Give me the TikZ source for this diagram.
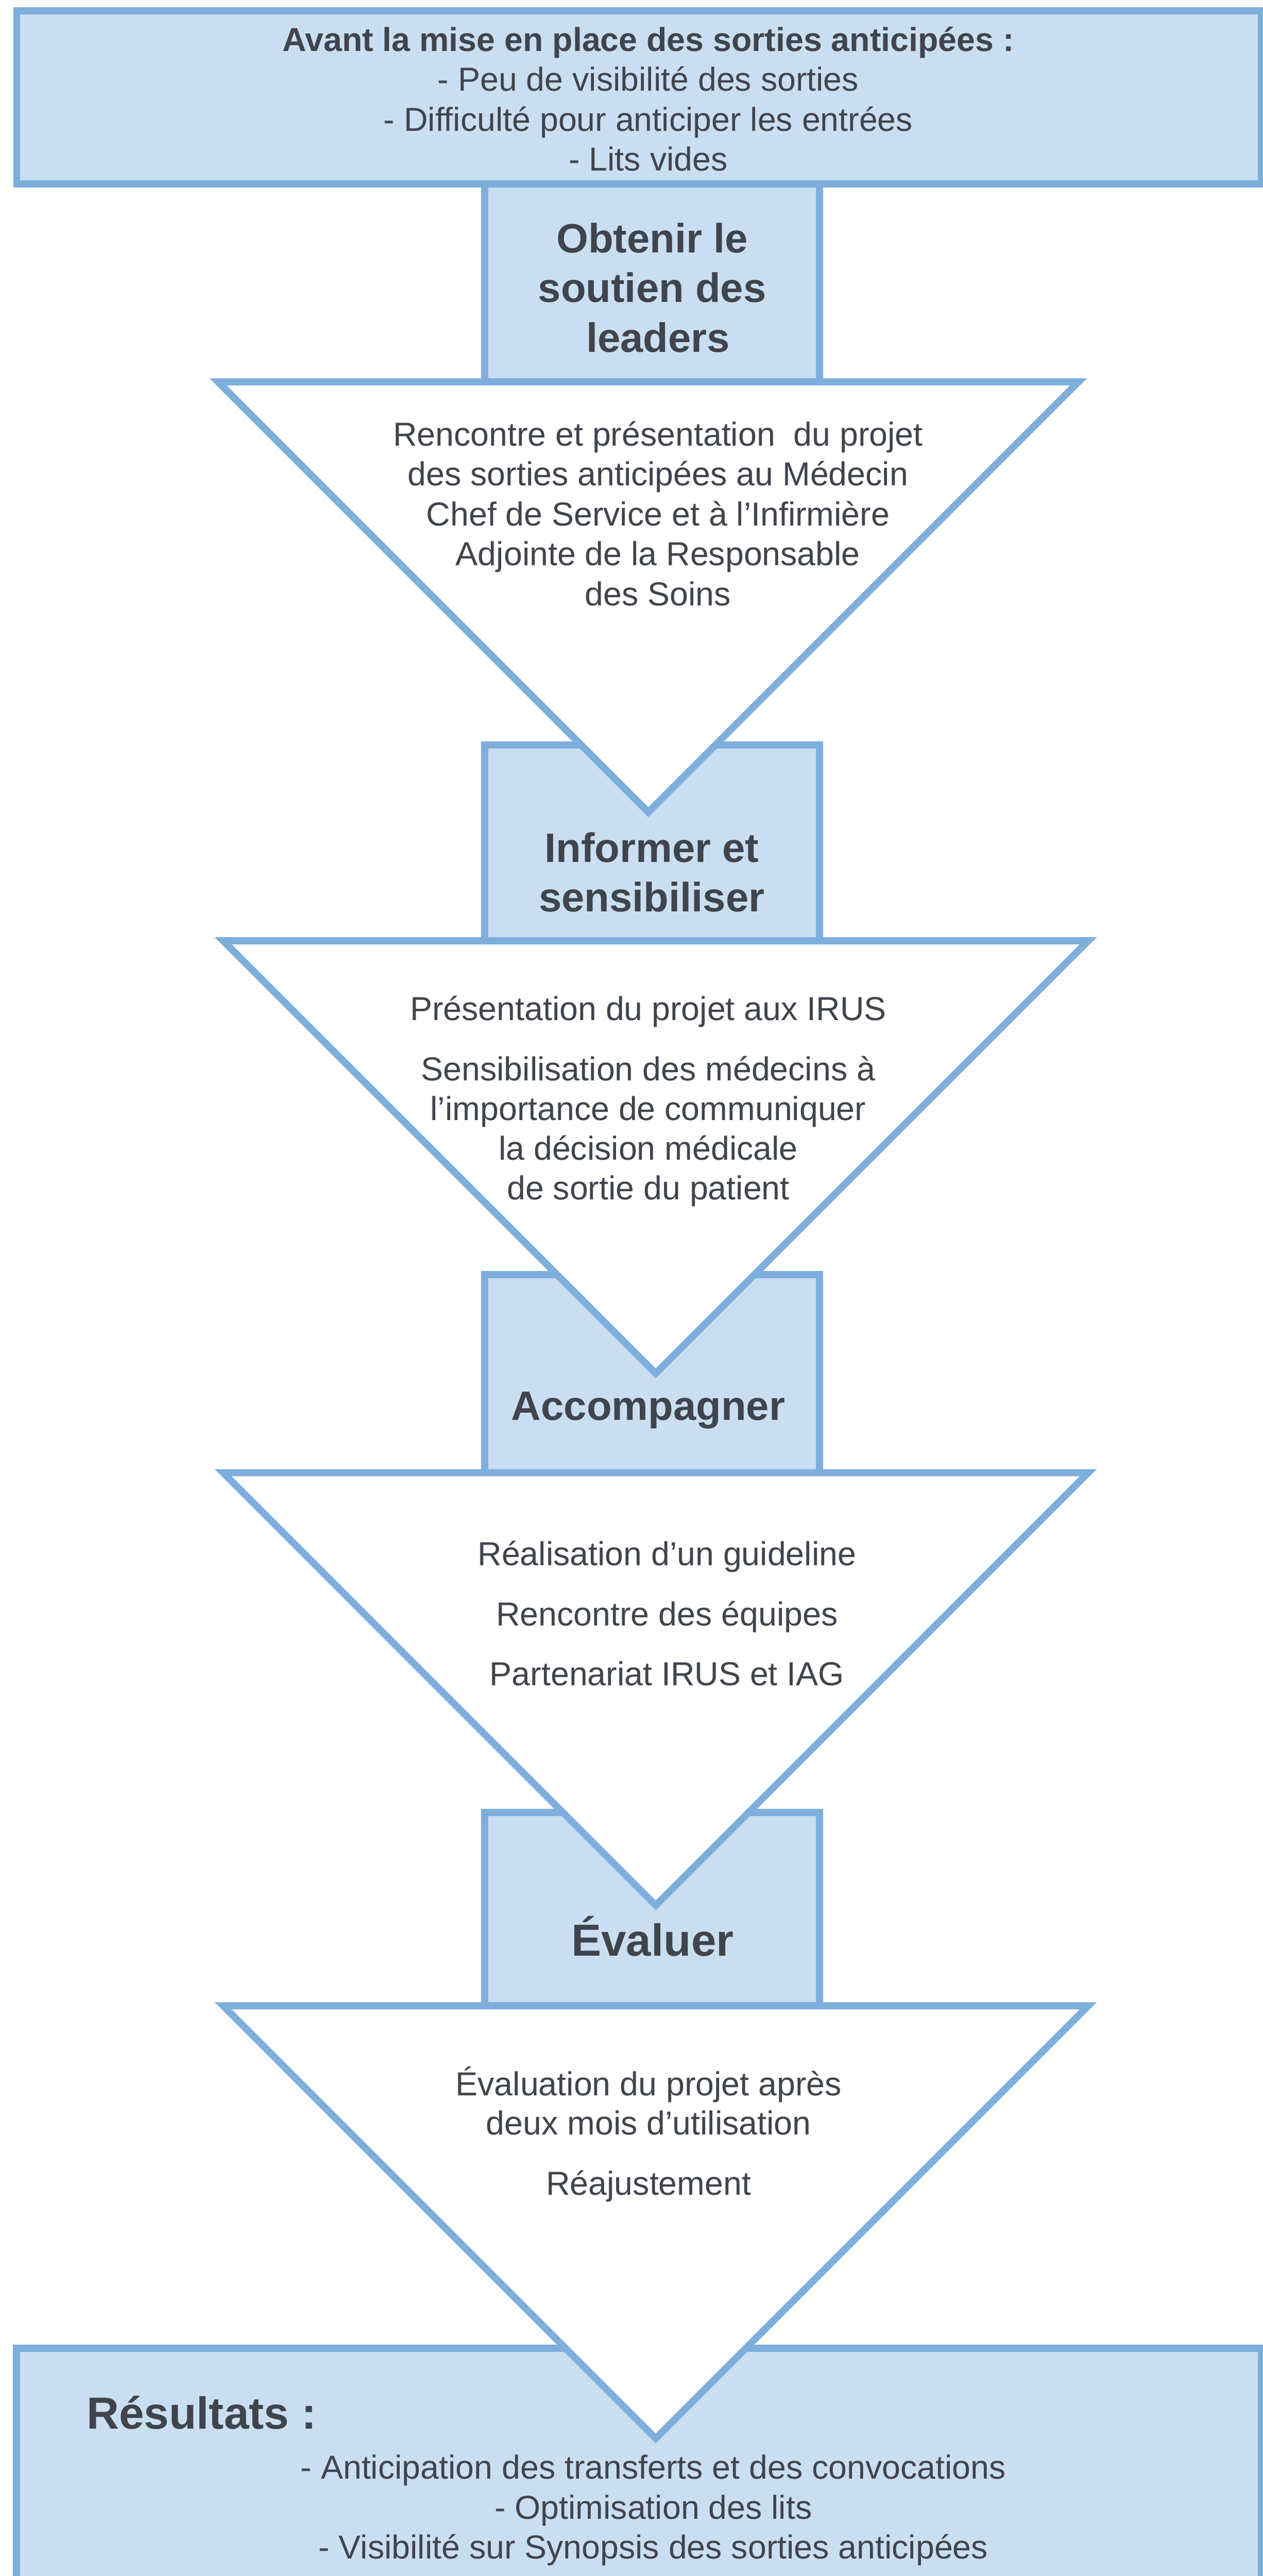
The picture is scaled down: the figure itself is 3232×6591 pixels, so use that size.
\documentclass[tikz,border=0pt]{standalone}
\usepackage{fontspec}
\setmainfont{Liberation Sans}
\definecolor{edgeblue}{RGB}{126,174,220}
\definecolor{boxfill}{RGB}{202,222,241}
\definecolor{textgray}{RGB}{64,68,76}
\tikzset{
  boxshape/.style={fill=boxfill, draw=edgeblue, line width=1.8pt, line join=miter},
  trishape/.style={fill=white, draw=edgeblue, line width=1.8pt, line join=miter, miter limit=10},
  txt/.style={anchor=base, inner sep=0pt, text=textgray, font=\fontsize{8.5pt}{10.2pt}\selectfont},
  txtb/.style={txt, font=\bfseries\fontsize{8.5pt}{10.2pt}\selectfont},
  head/.style={txt, font=\bfseries\fontsize{10.5pt}{12.6pt}\selectfont},
  bighead/.style={txt, font=\bfseries\fontsize{11.5pt}{13.8pt}\selectfont},
  reshead/.style={bighead, anchor=base west}
}
\begin{document}
\begin{tikzpicture}[x=0.1pt, y=-0.1pt]
\useasboundingbox (0,0) rectangle (3232,6591);
\clip (0,0) rectangle (3232,6591);
\fill[white] (0,0) rectangle (3232,6591);

% boxes
\draw[boxshape] (43,28) rectangle (3228,471);
\draw[boxshape] (1240,471) rectangle (2097,977);
\draw[boxshape] (1240,1906) rectangle (2097,2407);
\draw[boxshape] (1240,3261) rectangle (2097,3768);
\draw[boxshape] (1240,4637) rectangle (2097,5132);
\draw[boxshape] (42,6008) rectangle (3228,6700);

% triangles
\draw[trishape] (558,977) -- (2760,977) -- (1659,2078) -- cycle;
\draw[trishape] (571,2407) -- (2785,2407) -- (1678,3514) -- cycle;
\draw[trishape] (571,3768) -- (2785,3768) -- (1678,4875) -- cycle;
\draw[trishape] (571,5132) -- (2785,5132) -- (1678,6239) -- cycle;

% top box text
\node[txtb] (a1) at (1659,131) {Avant la mise en place des sorties anticipées :};
\node[txt] (a2) at (1659,233) {- Peu de visibilité des sorties};
\node[txt] (a3) at (1659,335) {- Difficulté pour anticiper les entrées};
\node[txt] (a4) at (1659,437) {- Lits vides};

% step 1
\node[head] (h1a) at (1669,647) {Obtenir le};
\node[head] (h1b) at (1669,773) {soutien des};
\node[head] (h1c) at (1684,901) {leaders};
\node[txt] (t1a) at (1684,1141) {Rencontre et présentation\ \ du projet};
\node[txt] (t1b) at (1684,1243) {des sorties anticipées au Médecin};
\node[txt] (t1c) at (1684,1345) {Chef de Service et à l’Infirmière};
\node[txt] (t1d) at (1684,1447) {Adjointe de la Responsable};
\node[txt] (t1e) at (1684,1549) {des Soins};

% step 2
\node[head] (h2a) at (1668,2206) {Informer et};
\node[head] (h2b) at (1668,2332) {sensibiliser};
\node[txt] (t2a) at (1659,2610) {Présentation du projet aux IRUS};
\node[txt] (t2b) at (1659,2765) {Sensibilisation des médecins à};
\node[txt] (t2c) at (1659,2866) {l’importance de communiquer};
\node[txt] (t2d) at (1659,2968) {la décision médicale};
\node[txt] (t2e) at (1659,3070) {de sortie du patient};

% step 3
\node[head] (h3a) at (1659,3634) {Accompagner};
\node[txt] (t3a) at (1707,4005) {Réalisation d’un guideline};
\node[txt] (t3b) at (1707,4159) {Rencontre des équipes};
\node[txt] (t3c) at (1707,4313) {Partenariat IRUS et IAG};

% step 4
\node[bighead] (h4a) at (1670,5004) {Évaluer};
\node[txt] (t4a) at (1660,5362) {Évaluation du projet après};
\node[txt] (t4b) at (1660,5462) {deux mois d’utilisation};
\node[txt] (t4c) at (1660,5616) {Réajustement};

% results
\node[reshead] (r0) at (220,6214) {Résultats :};
\node[txt] (r1) at (1672,6343) {- Anticipation des transferts et des convocations};
\node[txt] (r2) at (1672,6445) {- Optimisation des lits};
\node[txt] (r3) at (1672,6547) {- Visibilité sur Synopsis des sorties anticipées};
\end{tikzpicture}
\end{document}
